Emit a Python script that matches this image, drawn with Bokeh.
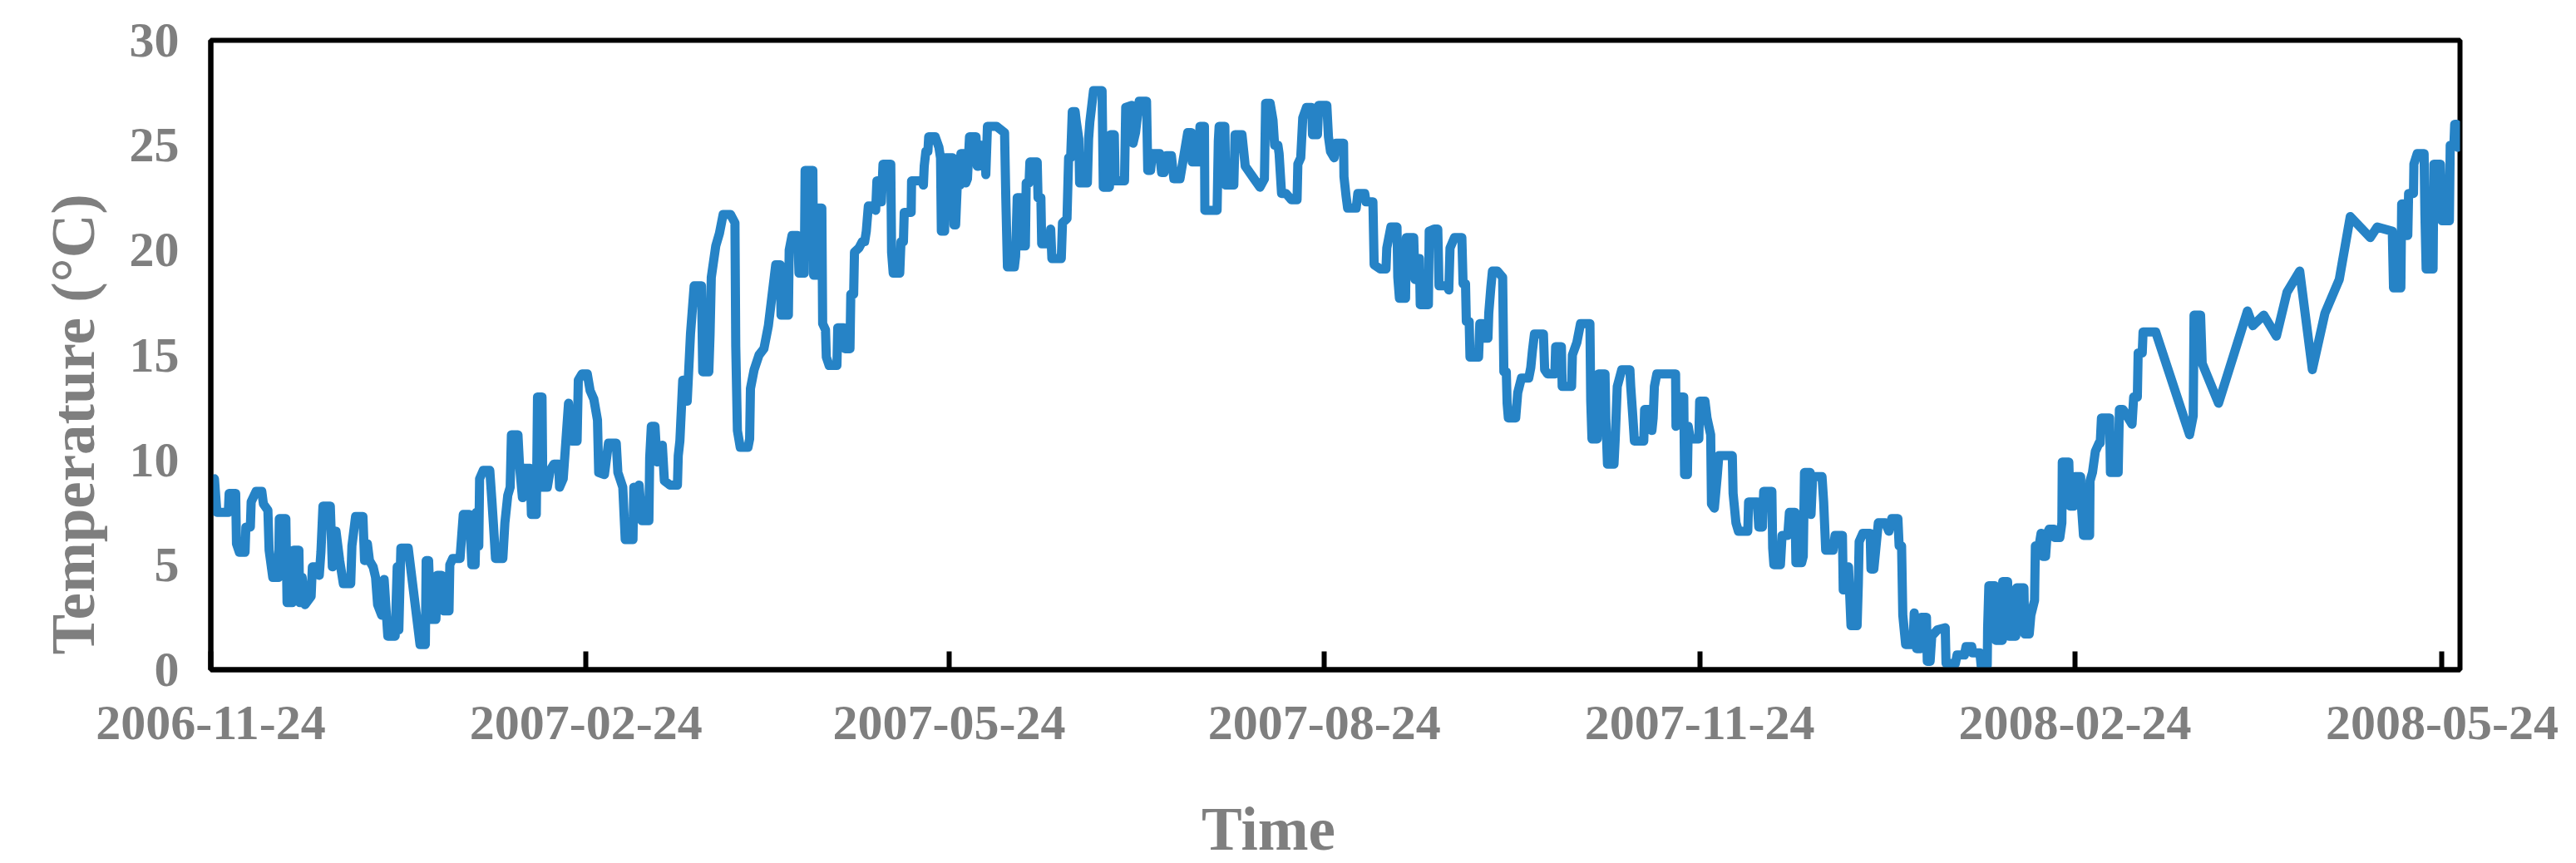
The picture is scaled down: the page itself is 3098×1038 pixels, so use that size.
import pandas as pd
from bokeh.plotting import figure
from bokeh.models import FixedTicker, DatetimeTickFormatter, Range1d, Title, Label
from bokeh.embed import file_html
from bokeh.resources import INLINE

# ---------------- data ----------------
start_date = "2006-11-24"
end_offset_days = 551.4          # right edge of the x range, days after start_date
tick_dates = ["2006-11-24", "2007-02-24", "2007-05-24", "2007-08-24",
              "2007-11-24", "2008-02-24", "2008-05-24"]
y_ticks = [0, 5, 10, 15, 20, 25, 30]

# time of each reading, in days after start_date
day_offset = [
    0.9, 1.5, 4.3, 4.5, 6.1, 6.3, 7.0, 8.4, 8.6, 9.7,
    9.9, 11.1, 12.5, 12.9, 14.0, 14.3, 15.2, 16.6, 16.8, 18.4,
    18.7, 20.0, 20.3, 21.6, 21.8, 22.4, 23.1, 24.6, 24.9, 26.1,
    26.6, 27.0, 27.5, 29.3, 29.8, 30.7, 31.6, 32.5, 34.3, 34.6,
    35.5, 37.3, 37.7, 38.4, 38.9, 39.8, 40.4, 40.9, 41.9, 42.5,
    43.4, 45.2, 45.7, 46.1, 46.6, 48.4, 51.3, 52.6, 52.8, 53.4,
    53.9, 55.2, 55.5, 56.6, 57.1, 58.4, 58.6, 59.3, 61.1, 61.9,
    63.4, 64.0, 64.8, 65.1, 65.7, 65.9, 66.8, 68.4, 68.9, 69.3,
    69.8, 71.6, 72.1, 72.8, 73.4, 73.7, 75.3, 75.7, 76.4, 76.8,
    78.3, 78.6, 79.8, 80.1, 81.2, 81.4, 82.5, 83.2, 84.1, 85.3,
    85.5, 86.4, 86.8, 87.7, 88.4, 89.8, 90.1, 91.0, 92.3, 93.0,
    93.9, 94.8, 95.1, 96.5, 97.5, 99.4, 99.8, 101.0, 101.6, 103.5,
    103.7, 104.6, 105.0, 105.7, 107.4, 107.6, 108.0, 108.9, 109.4, 110.7,
    111.2, 112.6, 114.4, 114.6, 115.0, 115.7, 116.5, 116.8, 117.6, 118.5,
    120.3, 120.6, 122.1, 122.4, 122.7, 123.8, 124.7, 125.6, 127.4, 128.5,
    128.7, 129.1, 129.8, 131.7, 132.1, 132.3, 133.2, 134.4, 135.6, 136.7,
    # ---
    138.5, 139.6, 139.8, 141.6, 141.8, 142.5, 143.9, 144.2, 145.5, 145.7,
    147.6, 147.8, 148.5, 148.7, 149.8, 150.0, 150.7, 150.9, 151.6, 153.5,
    153.7, 155.1, 155.5, 156.7, 156.9, 157.6, 157.8, 158.9, 159.7, 160.3,
    160.7, 161.2, 162.4, 163.0, 163.3, 163.9, 164.4, 164.8, 166.7, 166.9,
    167.3, 168.9, 169.2, 169.8, 170.0, 171.7, 171.8, 174.4, 174.7, 174.9,
    175.3, 175.8, 176.0, 177.6, 178.5, 178.9, 179.1, 179.9, 180.1, 181.9,
    182.2, 182.6, 183.0, 183.7, 183.9, 184.9, 185.1, 185.5, 186.0, 187.6,
    187.9, 188.2, 188.8, 189.9, 190.0, 190.4, 192.6, 194.6, 194.9, 195.3,
    197.0, 197.3, 197.7, 198.5, 198.8, 199.7, 199.9, 200.6, 200.8, 202.6,
    202.8, 203.5, 203.7, 205.8, 205.9, 206.2, 208.5, 208.8, 209.9, 210.3,
    210.8, 211.2, 211.9, 212.2, 212.8, 213.0, 214.9, 215.2, 215.5, 216.4,
    218.5, 218.8, 220.3, 220.6, 221.5, 221.7, 224.0, 224.3, 225.8, 226.1,
    226.7, 227.6, 229.4, 229.7, 230.4, 230.8, 232.6, 233.1, 233.7, 234.3,
    235.5, 236.1, 237.6, 239.5, 240.4, 240.6, 242.2, 242.5, 243.6, 243.7,
    246.7, 247.0, 247.2, 248.6, 248.8, 250.8, 251.1, 252.8, 253.6, 255.4,
    257.2, 258.3, 258.6, 259.7, 260.4, 260.8, 261.6, 261.9, 262.5, 263.6,
    264.9, 266.3, 266.5, 267.2, 267.7, 268.6, 269.9, 270.1, 271.3, 271.6,
    273.6, 274.0, 274.5, 275.4, 275.9, 277.7,
    # ---
    277.8, 278.3, 278.7, 280.8, 281.2, 282.9, 283.2, 284.9, 285.2, 286.7,
    288.1, 288.3, 289.3, 290.8, 291.0, 291.4, 292.9, 293.1, 294.9, 295.2,
    295.8, 296.3, 296.5, 298.5, 298.7, 299.9, 300.8, 301.1, 303.1, 303.5,
    303.8, 304.9, 306.7, 307.0, 307.6, 307.8, 308.5, 308.7, 310.8, 311.1,
    311.7, 312.0, 313.1, 313.3, 313.8, 314.2, 315.4, 316.7, 317.0, 317.6,
    317.8, 318.1, 319.9, 320.4, 321.3, 323.1, 323.6, 324.0, 324.5, 326.7,
    327.0, 327.7, 329.5, 329.7, 331.1, 331.3, 333.6, 333.8, 334.9, 335.8,
    338.1, 338.3, 338.6, 339.9, 340.2, 341.8, 342.0, 342.4, 344.0, 344.3,
    344.8, 345.9, 347.9, 348.1, 348.6, 349.0, 351.3, 351.5, 353.1, 353.3,
    353.6, 353.9, 354.5, 359.1, 359.2, 359.7, 361.1, 361.3, 362.0, 362.2,
    362.7, 364.8, 365.0, 366.3, 366.8, 367.7, 367.9, 368.6, 369.3, 369.7,
    373.0, 373.2, 373.9, 374.5, 376.8, 377.0, 379.1, 379.5, 380.4, 380.7,
    382.7, 382.9, 383.2, 384.8, 385.2, 386.6, 387.0, 388.4, 388.6, 390.0,
    390.4, 390.7, 392.1, 392.3, 392.7, 395.0, 395.4, 395.9, 397.7, 398.2,
    400.0, 400.2, 401.2, 401.5, 402.1, 403.6, 403.9, 404.1, 405.0, 406.8,
    407.0, 407.7, 408.2, 408.8, 410.5, 411.4, 412.1, 413.6, 413.9, 414.5,
    414.8, 415.5, 417.3, 417.6, 418.2, 419.1,
    # ---
    419.3, 420.6, 420.8, 421.5, 421.9, 423.3, 425.2, 425.4, 427.7, 428.1,
    429.9, 430.3, 431.7, 431.9, 433.7, 434.0, 435.5, 435.6, 435.9, 437.4,
    437.6, 439.2, 439.3, 440.5, 440.8, 442.5, 442.7, 444.5, 444.7, 445.8,
    446.2, 447.1, 447.3, 448.2, 448.7, 449.1, 449.8, 450.2, 450.7, 451.8,
    452.0, 453.3, 453.8, 453.9, 455.5, 455.8, 456.7, 457.0, 458.4, 458.6,
    459.1, 460.6, 460.7, 461.3, 462.0, 462.9, 463.2, 463.5, 465.5, 465.7,
    467.6, 467.9, 468.8, 471.0, 471.4, 472.3, 472.5, 473.5, 473.7, 476.8,
    485.1, 486.0, 486.2, 487.8, 488.2, 492.2, 499.3, 500.6, 503.3, 506.4,
    509.0, 512.1, 515.2, 518.3, 521.8, 524.5, 529.4, 531.1, 534.8, 535.1,
    536.9, 537.1, 537.8, 538.0, 538.6, 538.8, 540.0, 540.1, 540.9, 542.6,
    542.8, 543.1, 544.8, 545.0, 546.6, 547.0, 548.8, 549.0, 549.9, 550.1,
    550.6, 550.8,
]

# temperature of each reading, deg C
temperature_c = [
    9.1, 7.5, 7.5, 8.4, 8.4, 6.0, 5.6, 5.6, 6.8, 6.8,
    8.0, 8.5, 8.5, 7.9, 7.6, 5.7, 4.4, 4.4, 7.2, 7.2,
    3.2, 3.2, 5.7, 5.7, 3.2, 4.4, 3.1, 3.5, 4.9, 4.9,
    4.5, 5.6, 7.8, 7.8, 4.9, 6.6, 5.2, 4.1, 4.1, 5.9,
    7.3, 7.3, 5.2, 6.0, 5.2, 4.9, 4.4, 3.1, 2.6, 4.3,
    1.6, 1.6, 4.9, 1.9, 5.8, 5.8, 1.2, 1.2, 5.2, 5.2,
    2.4, 2.4, 4.5, 4.5, 2.8, 2.8, 5.0, 5.3, 5.3, 7.4,
    7.4, 5.0, 5.0, 7.5, 5.9, 9.1, 9.5, 9.5, 8.1, 6.9,
    5.3, 5.3, 7.0, 8.3, 8.7, 11.2, 11.2, 9.7, 8.2, 9.6,
    9.6, 7.4, 7.4, 13.0, 13.0, 8.7, 8.7, 9.5, 9.8, 9.8,
    8.7, 9.1, 10.2, 12.7, 10.9, 10.9, 13.8, 14.1, 14.1, 13.3,
    12.9, 11.9, 9.4, 9.3, 10.8, 10.8, 9.4, 8.7, 6.2, 6.2,
    8.7, 7.2, 8.8, 7.1, 7.1, 10.1, 11.6, 11.6, 9.9, 10.7,
    9.0, 8.8, 8.8, 10.2, 10.9, 13.8, 13.8, 12.8, 16.0, 18.3,
    18.3, 14.2, 14.2, 16.0, 18.7, 20.2, 20.8, 21.7, 21.7, 21.3,
    15.4, 11.4, 10.6, 10.6, 11.0, 13.4, 14.3, 15.0, 15.3, 16.4,
    # ---
    19.3, 19.3, 16.9, 16.9, 20.0, 20.7, 20.7, 18.9, 18.9, 23.8,
    23.8, 18.8, 18.8, 22.0, 22.0, 16.5, 16.2, 14.9, 14.5, 14.5,
    16.3, 16.3, 15.3, 15.3, 17.9, 17.9, 19.9, 20.1, 20.4, 20.4,
    20.9, 22.1, 22.1, 21.9, 23.3, 23.3, 22.3, 24.1, 24.1, 19.9,
    18.9, 18.9, 20.4, 20.4, 21.8, 21.8, 23.3, 23.3, 23.1, 24.0,
    24.7, 24.7, 25.4, 25.4, 24.9, 24.4, 20.9, 20.9, 24.4, 24.4,
    21.2, 21.2, 23.1, 23.1, 24.6, 24.6, 23.2, 23.4, 25.4, 25.4,
    24.0, 24.0, 25.0, 25.0, 23.6, 25.9, 25.9, 25.6, 22.5, 19.2,
    19.2, 19.7, 22.5, 22.5, 20.2, 20.2, 23.2, 23.2, 24.2, 24.2,
    22.5, 22.5, 20.3, 20.3, 21.0, 19.6, 19.6, 21.3, 21.5, 24.4,
    24.4, 26.6, 26.6, 26.1, 25.3, 23.2, 23.2, 25.3, 26.1, 27.6,
    27.6, 23.0, 23.0, 25.5, 25.5, 23.3, 23.3, 26.8, 26.9, 25.1,
    25.6, 27.1, 27.1, 23.8, 23.8, 24.6, 24.6, 23.7, 23.7, 24.5,
    24.5, 23.4, 23.4, 25.6, 25.6, 24.2, 24.2, 25.9, 25.9, 21.9,
    21.9, 25.2, 25.9, 25.9, 23.1, 23.1, 25.5, 25.5, 24.0, 23.5,
    23.0, 23.4, 27.0, 27.0, 26.2, 25.0, 25.0, 24.6, 22.7, 22.7,
    22.4, 22.4, 24.1, 24.4, 26.3, 26.8, 26.8, 25.5, 25.5, 26.9,
    26.9, 25.4, 24.7, 24.4, 25.1, 25.1,
    # ---
    23.5, 22.6, 22.0, 22.0, 22.7, 22.7, 22.3, 22.3, 19.3, 19.1,
    19.1, 20.1, 21.1, 21.1, 18.7, 17.7, 17.7, 20.6, 20.6, 18.6,
    18.6, 19.6, 17.4, 17.4, 20.9, 21.0, 21.0, 18.3, 18.3, 18.1,
    20.1, 20.6, 20.6, 18.4, 18.4, 16.6, 16.6, 14.9, 14.9, 16.5,
    16.5, 15.8, 15.8, 17.0, 18.2, 19.0, 19.0, 18.7, 14.2, 14.2,
    12.7, 12.0, 12.0, 13.2, 13.9, 13.9, 14.4, 15.2, 16.0, 16.0,
    14.3, 14.1, 14.1, 15.4, 15.4, 13.5, 13.5, 15.0, 15.6, 16.5,
    16.5, 12.8, 11.0, 11.0, 14.1, 14.1, 12.0, 9.8, 9.8, 11.0,
    13.5, 14.3, 14.3, 13.5, 12.1, 10.9, 10.9, 12.4, 12.4, 11.4,
    12.0, 13.5, 14.1, 14.1, 11.6, 13.0, 13.0, 9.3, 9.3, 11.6,
    11.0, 11.0, 12.8, 12.8, 12.0, 11.2, 7.9, 7.7, 9.2, 10.2,
    10.2, 8.4, 7.0, 6.6, 6.6, 8.0, 8.0, 6.8, 6.8, 8.5,
    8.5, 5.8, 5.0, 5.0, 6.4, 6.4, 7.5, 7.5, 5.1, 5.1,
    5.4, 9.4, 9.4, 7.4, 9.2, 9.2, 8.0, 5.7, 5.7, 6.4,
    6.4, 3.8, 3.8, 4.9, 2.1, 2.1, 4.1, 6.1, 6.5, 6.5,
    4.8, 4.8, 5.8, 7.0, 7.0, 6.6, 7.2, 7.2, 5.9, 5.9,
    2.6, 1.2, 1.2, 2.7, 1.0, 1.0,
    # ---
    2.5, 2.5, 0.4, 0.4, 1.6, 1.9, 2.0, 0.3, 0.3, 0.7,
    0.7, 1.1, 1.1, 0.8, 0.8, 0.2, 0.2, 2.0, 4.0, 4.0,
    1.4, 1.4, 4.2, 4.2, 1.6, 1.6, 3.9, 3.9, 1.7, 1.7,
    2.6, 3.3, 5.9, 5.9, 6.5, 5.4, 5.4, 6.5, 6.7, 6.7,
    6.3, 6.3, 7.0, 9.9, 9.9, 7.8, 7.8, 9.2, 9.2, 7.8,
    6.4, 6.4, 9.0, 9.4, 10.4, 10.8, 10.8, 12.0, 12.0, 9.4,
    9.4, 12.4, 12.4, 11.7, 13.0, 13.0, 15.1, 15.1, 16.1, 16.1,
    11.2, 12.1, 16.9, 16.9, 14.6, 12.7, 17.1, 16.4, 16.9, 15.9,
    18.0, 19.0, 14.3, 17.0, 18.6, 21.6, 20.6, 21.1, 20.9, 18.2,
    18.2, 22.2, 22.2, 20.7, 20.7, 22.7, 22.7, 24.1, 24.6, 24.6,
    21.7, 19.1, 19.1, 24.1, 24.1, 21.4, 21.4, 25.0, 25.0, 26.0,
    26.0, 24.9,
]

# ---------------- styling ----------------
LINE_COLOR = "#2683C6"
TEXT_COLOR = "#7f7f7f"
FONT = "Liberation Serif"

n = min(len(day_offset), len(temperature_c))
t0 = pd.Timestamp(start_date)
xs = [(t0 + pd.Timedelta(days=d)).to_pydatetime() for d in day_offset[:n]]
ys = temperature_c[:n]

x_start = t0.to_pydatetime()
x_end = (t0 + pd.Timedelta(days=end_offset_days)).to_pydatetime()

p = figure(width=3098, height=1038, x_axis_type="datetime",
           output_backend="svg", toolbar_location=None,
           x_range=Range1d(x_start, x_end), y_range=Range1d(0, 30),
           min_border_left=253, min_border_right=140,
           min_border_top=48, min_border_bottom=233)

p.line(xs, ys, line_color=LINE_COLOR, line_width=11,
       line_join="round", line_cap="round")

p.xgrid.grid_line_color = None
p.ygrid.grid_line_color = None
p.outline_line_color = "black"
p.outline_line_width = 6
p.background_fill_color = "white"
p.border_fill_color = "white"

tick_ms = [pd.Timestamp(d).value // 10**6 for d in tick_dates]
xa = p.xaxis[0]
xa.ticker = FixedTicker(ticks=tick_ms)
fmt = "%Y-%m-%d"
xa.formatter = DatetimeTickFormatter(
    microseconds=fmt, milliseconds=fmt, seconds=fmt, minsec=fmt, minutes=fmt,
    hourmin=fmt, hours=fmt, days=fmt, months=fmt, years=fmt)
xa.axis_line_color = "black"
xa.axis_line_width = 6
xa.major_tick_in = 22
xa.major_tick_out = 0
xa.major_tick_line_width = 6
xa.major_tick_line_color = "black"
xa.minor_tick_line_color = None
xa.major_label_standoff = 44
xa.major_label_text_font = FONT
xa.major_label_text_font_style = "bold"
xa.major_label_text_font_size = "60px"
xa.major_label_text_color = TEXT_COLOR

ya = p.yaxis[0]
ya.ticker = FixedTicker(ticks=y_ticks)
ya.axis_line_color = "black"
ya.axis_line_width = 6
ya.major_tick_in = 0
ya.major_tick_out = 0
ya.major_tick_line_color = None
ya.minor_tick_line_color = None
ya.major_label_standoff = 38
ya.major_label_text_font = FONT
ya.major_label_text_font_style = "bold"
ya.major_label_text_font_size = "60px"
ya.major_label_text_color = TEXT_COLOR

ytitle = Title(text="Temperature (°C)", align="left", offset=18,
               standoff=48, text_font=FONT, text_font_style="bold",
               text_font_size="73px", text_color=TEXT_COLOR)
p.add_layout(ytitle, "left")

# "Time" in the lower side panel, positioned in canvas coordinates
xlab = Label(x=1525, y=997, x_units="canvas", y_units="canvas",
             text="Time", text_align="center", text_baseline="alphabetic",
             text_font=FONT, text_font_style="bold", text_font_size="73px",
             text_color=TEXT_COLOR)
p.add_layout(xlab, "below")

open("out.html", "w").write(file_html(p, INLINE))
